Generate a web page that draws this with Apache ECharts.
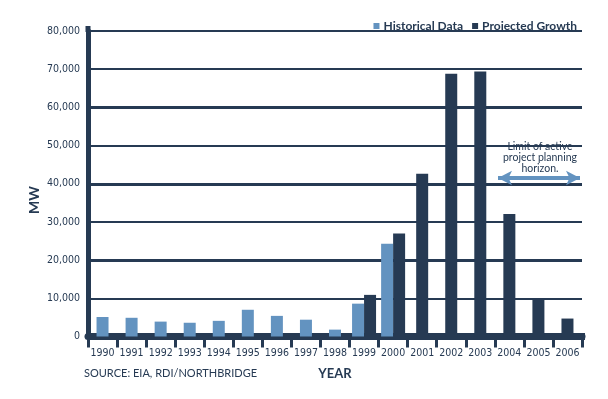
<!DOCTYPE html>
<html>
<head>
<meta charset="utf-8">
<script src="https://cdn.jsdelivr.net/npm/echarts@6/dist/echarts.min.js"></script>
<style>
html, body { margin: 0; padding: 0; background: #fff; }
#chart { width: 608px; height: 399px; }
</style>
</head>
<body>
<div id="chart"></div>
<script>
var years = ['1990','1991','1992','1993','1994','1995','1996','1997','1998','1999','2000','2001','2002','2003','2004','2005','2006'];
var historical = [5100, 4900, 3900, 3600, 4100, 7000, 5400, 4400, 1800, 8600, 24300, null, null, null, null, null, null];
var projected = [null, null, null, null, null, null, null, null, null, 10900, 27000, 42600, 68800, 69400, 32100, 9700, 4700];
var yTicks = [0, 10000, 20000, 30000, 40000, 50000, 60000, 70000, 80000];

var dark = '#263a53';
var light = '#6393c0';
var narrow = "'Liberation Sans Narrow', 'DejaVu Sans Condensed', sans-serif";

// years with both bars sit side by side, the rest are centred
var histPair = historical.map(function (v, i) { return projected[i] != null ? v : null; });
var histSolo = historical.map(function (v, i) { return projected[i] == null ? v : null; });
var projPair = projected.map(function (v, i) { return historical[i] != null ? v : null; });
var projSolo = projected.map(function (v, i) { return historical[i] == null ? v : null; });

var chart = echarts.init(document.getElementById('chart'));
var option = {
    animation: false,
    grid: { left: 88, right: 26, top: 31, bottom: 62.5 },
    legend: {
        data: ['Historical Data', 'Projected Growth'],
        right: 26,
        top: 15,
        icon: 'rect',
        itemWidth: 6,
        itemHeight: 6,
        itemGap: 9,
        selectedMode: false,
        textStyle: { color: dark, fontWeight: 'bold', fontSize: 12, fontFamily: 'Lato, sans-serif', padding: [0, 0, 0, -1] }
    },
    xAxis: {
        type: 'category',
        data: years,
        name: 'YEAR',
        nameLocation: 'middle',
        nameGap: 31,
        nameTextStyle: { color: dark, fontWeight: 'bold', fontSize: 13, fontFamily: 'Lato, sans-serif' },
        axisLine: { show: true, lineStyle: { color: dark, width: 7 } },
        axisTick: { show: true, alignWithLabel: false, interval: 0, length: 11, lineStyle: { color: dark, width: 3 } },
        axisLabel: { interval: 0, color: dark, fontSize: 10.5, margin: 11, fontFamily: narrow }
    },
    yAxis: [{
        type: 'value',
        min: yTicks[0],
        max: yTicks[yTicks.length - 1],
        interval: 10000,
        axisLine: { show: true, lineStyle: { color: dark, width: 5 } },
        axisTick: { show: false },
        axisLabel: {
            color: dark, fontSize: 10.5, margin: 8, fontFamily: narrow,
            formatter: function (v) { return v.toLocaleString('en-US'); }
        },
        splitLine: { lineStyle: { color: dark, width: 2 } }
    }, {
        type: 'value',
        min: 0,
        max: 80000,
        interval: 20000,
        axisLine: { show: false },
        axisTick: { show: false },
        axisLabel: { show: false },
        splitLine: { lineStyle: { color: [dark, dark, dark, dark, 'rgba(0,0,0,0)'], width: 3 } }
    }],
    barGap: '-50%',
    series: [
        { name: 'Historical Data', type: 'bar', stack: 'a', barWidth: 12, itemStyle: { color: light }, data: histPair },
        { name: 'Historical Data', type: 'bar', stack: 'b', barWidth: 12, itemStyle: { color: light }, data: histSolo },
        {
            name: 'Projected Growth', type: 'bar', stack: 'b', barWidth: 12, itemStyle: { color: dark }, data: projSolo,
            markLine: {
                silent: true,
                symbol: ['arrow', 'arrow'],
                symbolSize: [11, 14],
                label: { show: false },
                lineStyle: { color: light, width: 4, type: 'solid' },
                data: [[{ x: 498, y: 178 }, { x: 580, y: 178 }]]
            }
        },
        { name: 'Projected Growth', type: 'bar', stack: 'c', barWidth: 12, barGap: '-50%', itemStyle: { color: dark }, data: projPair }
    ],
    graphic: [
        { type: 'rect', shape: { x: 85.5, y: 26, width: 5, height: 6 }, style: { fill: dark } },
        { type: 'rect', shape: { x: 580, y: 333, width: 5, height: 7 }, style: { fill: dark } },
        {
            type: 'text', x: 34, y: 200, rotation: Math.PI / 2,
            style: { text: 'MW', fill: dark, font: 'bold 14px Lato, sans-serif', textAlign: 'center', textVerticalAlign: 'middle' }
        },
        {
            type: 'text', x: 84, y: 373,
            style: { text: 'SOURCE: EIA, RDI/NORTHBRIDGE', fill: dark, font: '11px Lato, sans-serif', textVerticalAlign: 'middle' }
        },
        {
            type: 'text', x: 540, y: 141,
            style: { text: 'Limit of active\nproject planning\nhorizon.', fill: dark, font: '10.5px Lato, sans-serif', textAlign: 'center', lineHeight: 11 }
        }
    ]
};
chart.setOption(option);
</script>
</body>
</html>
